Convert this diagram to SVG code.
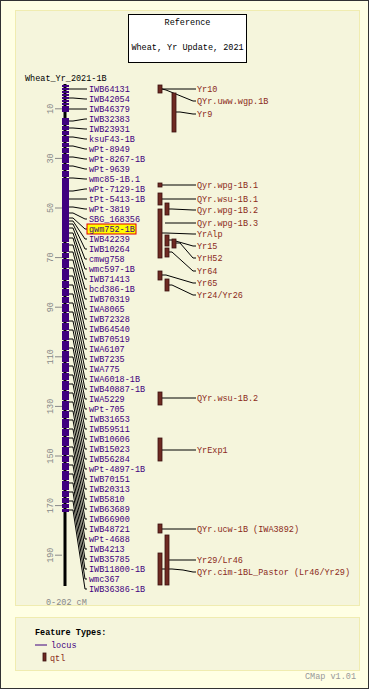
<svg xmlns="http://www.w3.org/2000/svg" width="369" height="689" viewBox="0 0 369 689">
<style>
text{font-family:"Liberation Mono","DejaVu Sans Mono",monospace;font-size:8.5px}
.lc{fill:#3f007f}
.qt{fill:#8b2a1a}
.tk{fill:#888;font-size:9px}
.ln{stroke:#000;stroke-width:1;fill:none}
.q{fill:#6e2a22;stroke:#3a1010;stroke-width:0.8}
.p{fill:#3f007f}
</style>
<rect x="0.5" y="0.5" width="368" height="688" fill="#ffffe4" stroke="#333"/>
<rect x="15.5" y="10.5" width="344" height="595" fill="#f5f5dc" stroke="#f0ecb0"/>
<rect x="15.5" y="617.5" width="344" height="53" fill="#f5f5dc" stroke="#f0ecb0"/>
<g id="title">
<rect x="128.5" y="14.5" width="118" height="48" fill="#fff" stroke="#000"/>
<text x="187.5" y="25" text-anchor="middle" fill="#000">Reference</text>
<text x="187.5" y="50" text-anchor="middle" fill="#000">Wheat, Yr Update, 2021</text>
</g>
<text x="25" y="81" fill="#000">Wheat_Yr_2021-1B</text>
<g id="axis">
<line x1="65" y1="84" x2="65" y2="586" stroke="#000" stroke-width="3"/>
<g stroke="#888" stroke-width="1">
<line x1="55" y1="108.8" x2="62" y2="108.8"/><line x1="55" y1="158.4" x2="62" y2="158.4"/>
<line x1="55" y1="208" x2="62" y2="208"/><line x1="55" y1="257.6" x2="62" y2="257.6"/>
<line x1="55" y1="307.2" x2="62" y2="307.2"/><line x1="55" y1="356.8" x2="62" y2="356.8"/>
<line x1="55" y1="406.4" x2="62" y2="406.4"/><line x1="55" y1="456" x2="62" y2="456"/>
<line x1="55" y1="505.6" x2="62" y2="505.6"/><line x1="55" y1="555.2" x2="62" y2="555.2"/>
</g>
<g class="tk" text-anchor="middle">
<text transform="translate(53,108.8) rotate(-90)">10</text>
<text transform="translate(53,158.4) rotate(-90)">30</text>
<text transform="translate(53,208) rotate(-90)">50</text>
<text transform="translate(53,257.6) rotate(-90)">70</text>
<text transform="translate(53,307.2) rotate(-90)">90</text>
<text transform="translate(53,356.8) rotate(-90)">110</text>
<text transform="translate(53,406.4) rotate(-90)">130</text>
<text transform="translate(53,456) rotate(-90)">150</text>
<text transform="translate(53,505.6) rotate(-90)">170</text>
<text transform="translate(53,555.2) rotate(-90)">190</text>
</g>
<text x="46" y="605" fill="#888">0-202 cM</text>
</g>
<g id="chromosome">
<rect class="p" x="62" y="85" width="7" height="2"/><rect class="p" x="62" y="88" width="7" height="2"/>
<rect class="p" x="62" y="91" width="7" height="2"/><rect class="p" x="62" y="94" width="7" height="2"/>
<rect class="p" x="62" y="97" width="7" height="2"/><rect class="p" x="62" y="100" width="7" height="2"/>
<rect class="p" x="62" y="103" width="7" height="2"/><rect class="p" x="62" y="106" width="7" height="6"/>
<rect class="p" x="62" y="118" width="7" height="7"/><rect class="p" x="62" y="126" width="7" height="4"/>
<rect class="p" x="62" y="131" width="7" height="4"/><rect class="p" x="62" y="136" width="7" height="6"/>
<rect class="p" x="62" y="143" width="7" height="4"/><rect class="p" x="62" y="148" width="7" height="5"/>
<rect class="p" x="62" y="154" width="7" height="9"/><rect class="p" x="62" y="164" width="7" height="6"/>
<rect class="p" x="62" y="171" width="7" height="6"/><rect class="p" x="62" y="178" width="7" height="64"/>
<rect class="p" x="62" y="243" width="7" height="9"/><rect class="p" x="62" y="253" width="7" height="5"/>
<rect class="p" x="62" y="259" width="7" height="9"/><rect class="p" x="62" y="269" width="7" height="11"/>
<rect class="p" x="62" y="281" width="7" height="7"/><rect class="p" x="62" y="289" width="7" height="7"/>
<rect class="p" x="62" y="297" width="7" height="6"/><rect class="p" x="62" y="304" width="7" height="8"/>
<rect class="p" x="62" y="313" width="7" height="9"/><rect class="p" x="62" y="323" width="7" height="7"/>
<rect class="p" x="62" y="331" width="7" height="9"/><rect class="p" x="62" y="341" width="7" height="9"/>
<rect class="p" x="62" y="351" width="7" height="11"/><rect class="p" x="62" y="363" width="7" height="9"/>
<rect class="p" x="62" y="373" width="7" height="7"/><rect class="p" x="62" y="381" width="7" height="9"/>
<rect class="p" x="62" y="391" width="7" height="9"/><rect class="p" x="62" y="401" width="7" height="9"/>
<rect class="p" x="62" y="411" width="7" height="7"/><rect class="p" x="62" y="419" width="7" height="9"/>
<rect class="p" x="62" y="429" width="7" height="7"/><rect class="p" x="62" y="437" width="7" height="9"/>
<rect class="p" x="62" y="447" width="7" height="8"/><rect class="p" x="62" y="456" width="7" height="6"/>
<rect class="p" x="62" y="463" width="7" height="7"/><rect class="p" x="62" y="471" width="7" height="9"/>
<rect class="p" x="62" y="481" width="7" height="9"/><rect class="p" x="62" y="491" width="7" height="6"/>
<rect class="p" x="62" y="498" width="7" height="5"/><rect class="p" x="62" y="504" width="7" height="4"/>
<rect class="p" x="62" y="509" width="7" height="3"/>
</g>
<g id="connectors" class="ln">
<polyline points="69,89 73,89 85,89 87,89"/>
<polyline points="69,98 73,98 85,99 87,99"/>
<polyline points="69,109 73,109 85,109 87,109"/>
<polyline points="69,121 73,121 85,119 87,119"/>
<polyline points="69,128 73,128 85,129 87,129"/>
<polyline points="69,137 73,137 85,139 87,139"/>
<polyline points="69,146 73,146 85,149 87,149"/>
<polyline points="69,157 73,157 85,159 87,159"/>
<polyline points="69,166 73,166 85,169 87,169"/>
<polyline points="69,178 73,178 85,179 87,179"/>
<polyline points="69,191 73,191 85,189 87,189"/>
<polyline points="69,199 73,199 85,199 87,199"/>
<polyline points="69,207 73,207 85,209 87,209"/>
<polyline points="69,213 73,213 85,219 87,219"/>
<polyline points="69,218 73,218 85,229 87,229"/>
<polyline points="69,221 73,221 85,239 87,239"/>
<polyline points="69,224 73,224 85,249 87,249"/>
<polyline points="69,228 73,228 85,259 87,259"/>
<polyline points="69,233 73,233 85,269 87,269"/>
<polyline points="69,238 73,238 85,279 87,279"/>
<polyline points="69,245 73,245 85,289 87,289"/>
<polyline points="69,252 73,252 85,299 87,299"/>
<polyline points="69,260 73,260 85,309 87,309"/>
<polyline points="69,268 73,268 85,319 87,319"/>
<polyline points="69,276 73,276 85,329 87,329"/>
<polyline points="69,285 73,285 85,339 87,339"/>
<polyline points="69,294 73,294 85,349 87,349"/>
<polyline points="69,303 73,303 85,359 87,359"/>
<polyline points="69,312 73,312 85,369 87,369"/>
<polyline points="69,321 73,321 85,379 87,379"/>
<polyline points="69,330 73,330 85,389 87,389"/>
<polyline points="69,339 73,339 85,399 87,399"/>
<polyline points="69,348 73,348 85,409 87,409"/>
<polyline points="69,357 73,357 85,419 87,419"/>
<polyline points="69,366 73,366 85,429 87,429"/>
<polyline points="69,375 73,375 85,439 87,439"/>
<polyline points="69,384 73,384 85,449 87,449"/>
<polyline points="69,393 73,393 85,459 87,459"/>
<polyline points="69,402 73,402 85,469 87,469"/>
<polyline points="69,411 73,411 85,479 87,479"/>
<polyline points="69,420 73,420 85,489 87,489"/>
<polyline points="69,429 73,429 85,499 87,499"/>
<polyline points="69,438 73,438 85,509 87,509"/>
<polyline points="69,447 73,447 85,519 87,519"/>
<polyline points="69,456 73,456 85,529 87,529"/>
<polyline points="69,465 73,465 85,539 87,539"/>
<polyline points="69,474 73,474 85,549 87,549"/>
<polyline points="69,483 73,483 85,559 87,559"/>
<polyline points="69,492 73,492 85,569 87,569"/>
<polyline points="69,501 73,501 85,579 87,579"/>
<polyline points="69,510 73,510 85,589 87,589"/>
<polyline points="162,89 196,89"/>
<polyline points="162,89 166,90 193,101 196,101"/>
<polyline points="176,112 180,112 193,114 196,114"/>
<polyline points="162,185 196,185"/>
<polyline points="162,199 196,199"/>
<polyline points="168,209 172,209 193,210 196,210"/>
<polyline points="165,223 196,223"/>
<polyline points="162,233 166,233 193,234 196,234"/>
<polyline points="168,240 172,240 193,246 196,246"/>
<polyline points="176,243 180,243 193,258 196,258"/>
<polyline points="168,252 172,252 193,271 196,271"/>
<polyline points="162,275 166,275 193,283 196,283"/>
<polyline points="168,285 172,285 193,295 196,295"/>
<polyline points="162,398 196,398"/>
<polyline points="162,450 196,450"/>
<polyline points="162,529 196,529"/>
<polyline points="168,560 196,560"/>
<polyline points="162,569 172,569 183,570 193,572 196,572"/>
</g>
<g id="loci">
<rect x="87" y="224" width="49" height="10" fill="#ffff00" stroke="#e00000"/>
<text class="lc" x="89" y="92">IWB64131</text>
<text class="lc" x="89" y="102">IWB42054</text>
<text class="lc" x="89" y="112">IWB46379</text>
<text class="lc" x="89" y="122">IWB32383</text>
<text class="lc" x="89" y="132">IWB23931</text>
<text class="lc" x="89" y="142">ksuF43-1B</text>
<text class="lc" x="89" y="152">wPt-8949</text>
<text class="lc" x="89" y="162">wPt-8267-1B</text>
<text class="lc" x="89" y="172">wPt-9639</text>
<text class="lc" x="89" y="182">wmc85-1B.1</text>
<text class="lc" x="89" y="192">wPt-7129-1B</text>
<text class="lc" x="89" y="202">tPt-5413-1B</text>
<text class="lc" x="89" y="212">wPt-3819</text>
<text class="lc" x="89" y="222">SBG_168356</text>
<text class="lc" x="89" y="232">gwm752-1B</text>
<text class="lc" x="89" y="242">IWB42239</text>
<text class="lc" x="89" y="252">IWB10264</text>
<text class="lc" x="89" y="262">cmwg758</text>
<text class="lc" x="89" y="272">wmc597-1B</text>
<text class="lc" x="89" y="282">IWB71413</text>
<text class="lc" x="89" y="292">bcd386-1B</text>
<text class="lc" x="89" y="302">IWB70319</text>
<text class="lc" x="89" y="312">IWA8065</text>
<text class="lc" x="89" y="322">IWB72328</text>
<text class="lc" x="89" y="332">IWB64540</text>
<text class="lc" x="89" y="342">IWB70519</text>
<text class="lc" x="89" y="352">IWA6107</text>
<text class="lc" x="89" y="362">IWB7235</text>
<text class="lc" x="89" y="372">IWA775</text>
<text class="lc" x="89" y="382">IWA6018-1B</text>
<text class="lc" x="89" y="392">IWB40887-1B</text>
<text class="lc" x="89" y="402">IWA5229</text>
<text class="lc" x="89" y="412">wPt-705</text>
<text class="lc" x="89" y="422">IWB31653</text>
<text class="lc" x="89" y="432">IWB59511</text>
<text class="lc" x="89" y="442">IWB10606</text>
<text class="lc" x="89" y="452">IWB15023</text>
<text class="lc" x="89" y="462">IWB56284</text>
<text class="lc" x="89" y="472">wPt-4897-1B</text>
<text class="lc" x="89" y="482">IWB70151</text>
<text class="lc" x="89" y="492">IWB20313</text>
<text class="lc" x="89" y="502">IWB5810</text>
<text class="lc" x="89" y="512">IWB63689</text>
<text class="lc" x="89" y="522">IWB66900</text>
<text class="lc" x="89" y="532">IWB48721</text>
<text class="lc" x="89" y="542">wPt-4688</text>
<text class="lc" x="89" y="552">IWB4213</text>
<text class="lc" x="89" y="562">IWB35785</text>
<text class="lc" x="89" y="572">IWB11800-1B</text>
<text class="lc" x="89" y="582">wmc367</text>
<text class="lc" x="89" y="592">IWB36386-1B</text>
</g>
<g id="qtls">
<rect class="q" x="158" y="85" width="4" height="8"/>
<rect class="q" x="172" y="93" width="4" height="39"/>
<rect class="q" x="158" y="183" width="4" height="4"/>
<rect class="q" x="158" y="193" width="4" height="12"/>
<rect class="q" x="165" y="203" width="4" height="12"/>
<rect class="q" x="158" y="209" width="4" height="49"/>
<rect class="q" x="165" y="235" width="4" height="11"/>
<rect class="q" x="172" y="239" width="4" height="9"/>
<rect class="q" x="165" y="248" width="4" height="9"/>
<rect class="q" x="158" y="271" width="4" height="9"/>
<rect class="q" x="165" y="279" width="4" height="12"/>
<rect class="q" x="158" y="392" width="4" height="13"/>
<rect class="q" x="158" y="438" width="4" height="23"/>
<rect class="q" x="158" y="524" width="4" height="9"/>
<rect class="q" x="165" y="535" width="4" height="50"/>
<rect class="q" x="158" y="553" width="4" height="32"/>
<text class="qt" x="197" y="92">Yr10</text>
<text class="qt" x="197" y="104">QYr.uww.wgp.1B</text>
<text class="qt" x="197" y="117">Yr9</text>
<text class="qt" x="197" y="188">Qyr.wpg-1B.1</text>
<text class="qt" x="197" y="202">QYr.wsu-1B.1</text>
<text class="qt" x="197" y="213">Qyr.wpg-1B.2</text>
<text class="qt" x="197" y="226">Qyr.wpg-1B.3</text>
<text class="qt" x="197" y="237">YrAlp</text>
<text class="qt" x="197" y="249">Yr15</text>
<text class="qt" x="197" y="261">YrH52</text>
<text class="qt" x="197" y="274">Yr64</text>
<text class="qt" x="197" y="286">Yr65</text>
<text class="qt" x="197" y="298">Yr24/Yr26</text>
<text class="qt" x="197" y="401">QYr.wsu-1B.2</text>
<text class="qt" x="197" y="453">YrExp1</text>
<text class="qt" x="197" y="532">QYr.ucw-1B (IWA3892)</text>
<text class="qt" x="197" y="563">Yr29/Lr46</text>
<text class="qt" x="197" y="575">QYr.cim-1BL_Pastor (Lr46/Yr29)</text>
</g>
<g id="legend">
<text x="35" y="635" fill="#000" font-weight="bold">Feature Types:</text>
<line x1="35" y1="645" x2="47" y2="645" stroke="#3f007f" stroke-width="1"/>
<text class="lc" x="51" y="648">locus</text>
<rect class="q" x="43" y="653" width="3" height="8"/>
<text class="qt" x="50" y="661">qtl</text>
<text x="305" y="679" fill="#999">CMap v1.01</text>
</g>
</svg>
